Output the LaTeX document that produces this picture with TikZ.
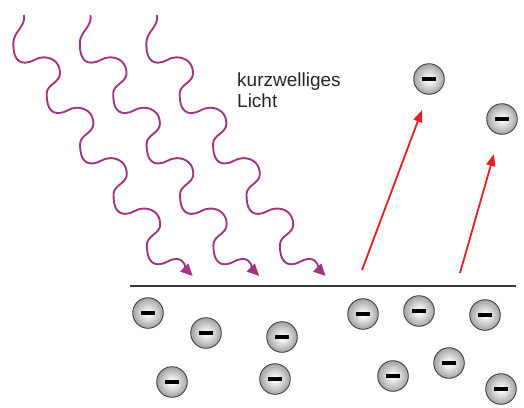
\documentclass[tikz,border=0pt]{standalone}
\usepackage{fontspec}
\setmainfont{Liberation Sans}
\usetikzlibrary{arrows.meta}
\definecolor{wavecol}{RGB}{163,52,130}
\definecolor{arrowred}{RGB}{236,28,36}
\definecolor{surface}{RGB}{60,60,60}
\pgfdeclareradialshading{electronshade}{\pgfpoint{0bp}{0bp}}{%
  color(0bp)=(white); color(5bp)=(white!96!black); color(26bp)=(black!38);
  color(50bp)=(black!70)}
\tikzset{
  wave/.style={draw=wavecol, line width=1.9pt,
    -{Triangle[length=12pt,width=11pt]}},
  kick/.style={draw=arrowred, line width=1.8pt,
    -{Triangle[length=12pt,width=9pt]}},
  electron/.style={circle, minimum size=30.6pt, inner sep=0pt,
    draw=black!75, line width=0.9pt, shade, shading=electronshade},
  label/.style={font=\fontsize{19}{22}\selectfont, text=black!85,
    inner sep=0pt, anchor=base west}
}
\newcommand{\minusbar}{\rule[-1.6pt]{14.5pt}{3.2pt}}
\begin{document}
\begin{tikzpicture}[x=1pt,y=1pt]
\useasboundingbox (0,0) rectangle (524,-407);

% incoming short-wave light
\foreach \dx in {0,66.5,133}{
  \begin{scope}[xshift=\dx pt]
    \draw[wave] (24,-15) to[out=-80,in=90] (13.3,-43.3)
      \foreach \k in {0,...,3}{
        to[out=-90,in=180,looseness=1.1] ++(11.7,-19.4)
        to[out=0,in=180] ++(18.3,5.4)
        to[out=0,in=90,looseness=1.1] ++(16.7,-16)
        to[out=-90,in=90] ++(-13.3,-20.4)
      }
      to[out=-90,in=180,looseness=1.1] ++(11.7,-19.4)
      to[out=0,in=180] ++(17.5,5.4)
      to[out=0,in=135] ++(16.6,-17.1);
  \end{scope}
}

\node[label] (t1) at (237,-86) {kurzwelliges};
\node[label] (t2) at (237,-107) {Licht};

% metal surface
\coordinate (sL) at (130,-286);
\coordinate (sR) at (516,-286);
\draw[surface, line width=1.3pt] (sL) -- (sR);

% electrons inside the metal
\foreach \n/\x/\y in {e1/148/313, e2/206/333, e3/282/337, e4/172/382,
  e5/275/379, e6/363/314, e7/419/311, e8/485/315, e9/393/376,
  e10/449/363, e11/501/389}{
  \node[electron] (\n) at (\x,-\y) {\minusbar};
}

% emitted electrons
\node[electron] (f1) at (429,-79) {\minusbar};
\node[electron] (f2) at (502,-119) {\minusbar};

\coordinate (k1s) at (362,-270);
\coordinate (k1e) at (422,-110);
\coordinate (k2s) at (460,-273);
\coordinate (k2e) at (494,-154);
\draw[kick] (k1s) -- (k1e);
\draw[kick] (k2s) -- (k2e);
\end{tikzpicture}
\end{document}
